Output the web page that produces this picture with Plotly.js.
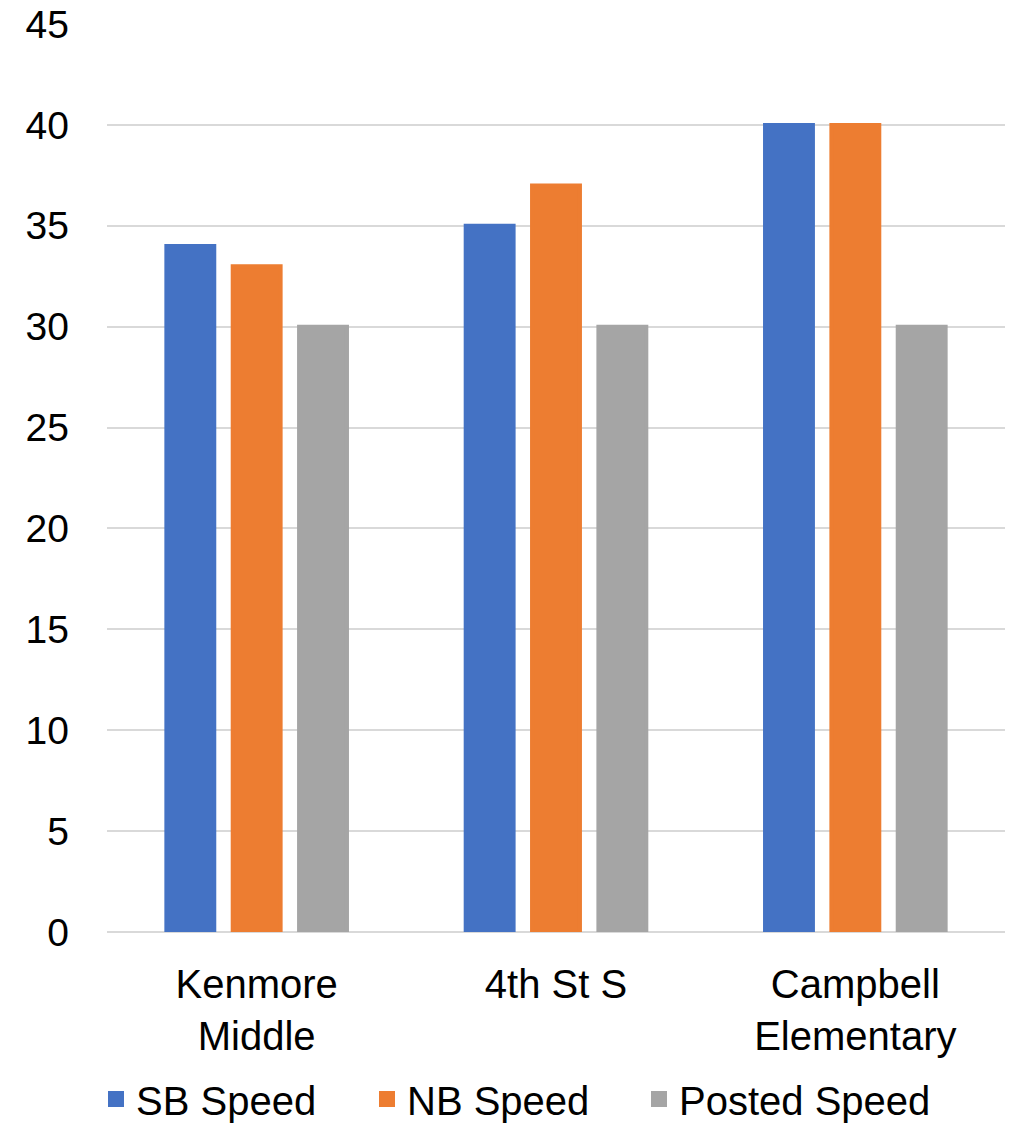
<!DOCTYPE html>
<html>
<head>
<meta charset="utf-8">
<script src="https://cdn.plot.ly/plotly-3.0.1.min.js"></script>
<style>html,body{margin:0;padding:0;background:#fff;}#chart{width:1015px;height:1125px;}</style>
</head>
<body>
<div id="chart"></div>
<script>
const categories = ["Kenmore<br>Middle", "4th St S", "Campbell<br>Elementary"];
const sbSpeed = [34, 35, 40];
const nbSpeed = [33, 37, 40];
const postedSpeed = [30, 30, 30];
const yTicks = [0, 5, 10, 15, 20, 25, 30, 35, 40, 45];

const fam = "Liberation Sans, Arial, sans-serif";
const font = {family: fam, size: 40, color: "#000"};
const yfont = {family: fam, size: 39, color: "#000"};
function bar(name, y, color, legend) {
  return {type: "bar", name: name, x: categories, y: y, legend: legend,
          marker: {color: color, line: {color: color, width: 4}}};
}
const traces = [
  bar("SB Speed", sbSpeed, "#4472C4", "legend"),
  bar("NB Speed", nbSpeed, "#ED7D31", "legend2"),
  bar("Posted Speed", postedSpeed, "#A5A5A5", "legend3")
];
function leg(px) {
  return {orientation: "h", xref: "container", x: px / 1015, xanchor: "left",
          yref: "container", y: 26 / 1125, yanchor: "middle", font: font, itemwidth: 30,
          bgcolor: "rgba(0,0,0,0)"};
}
const layout = {
  width: 1015, height: 1125,
  margin: {l: 107, r: 10, t: 24, b: 193},
  paper_bgcolor: "#fff", plot_bgcolor: "#fff",
  font: font,
  barmode: "group",
  bargap: 0.335,
  bargroupgap: 0.278,
  showlegend: true,
  hovermode: false,
  xaxis: {tickfont: font, showgrid: false, zeroline: false, showline: false, ticks: "", automargin: false,
          ticklabelstandoff: 25},
  yaxis: {range: [0, 45], tickvals: yTicks, ticktext: yTicks.map(String), tickfont: yfont,
          showgrid: true, gridcolor: "#D9D9D9", gridwidth: 2, zeroline: true, zerolinecolor: "#D9D9D9", zerolinewidth: 2,
          showline: false, ticks: "", ticklabelstandoff: 37, automargin: false},
  legend: leg(96),
  legend2: leg(367),
  legend3: leg(639)
};
Plotly.newPlot("chart", traces, layout, {displayModeBar: false, staticPlot: true});
</script>
</body>
</html>
